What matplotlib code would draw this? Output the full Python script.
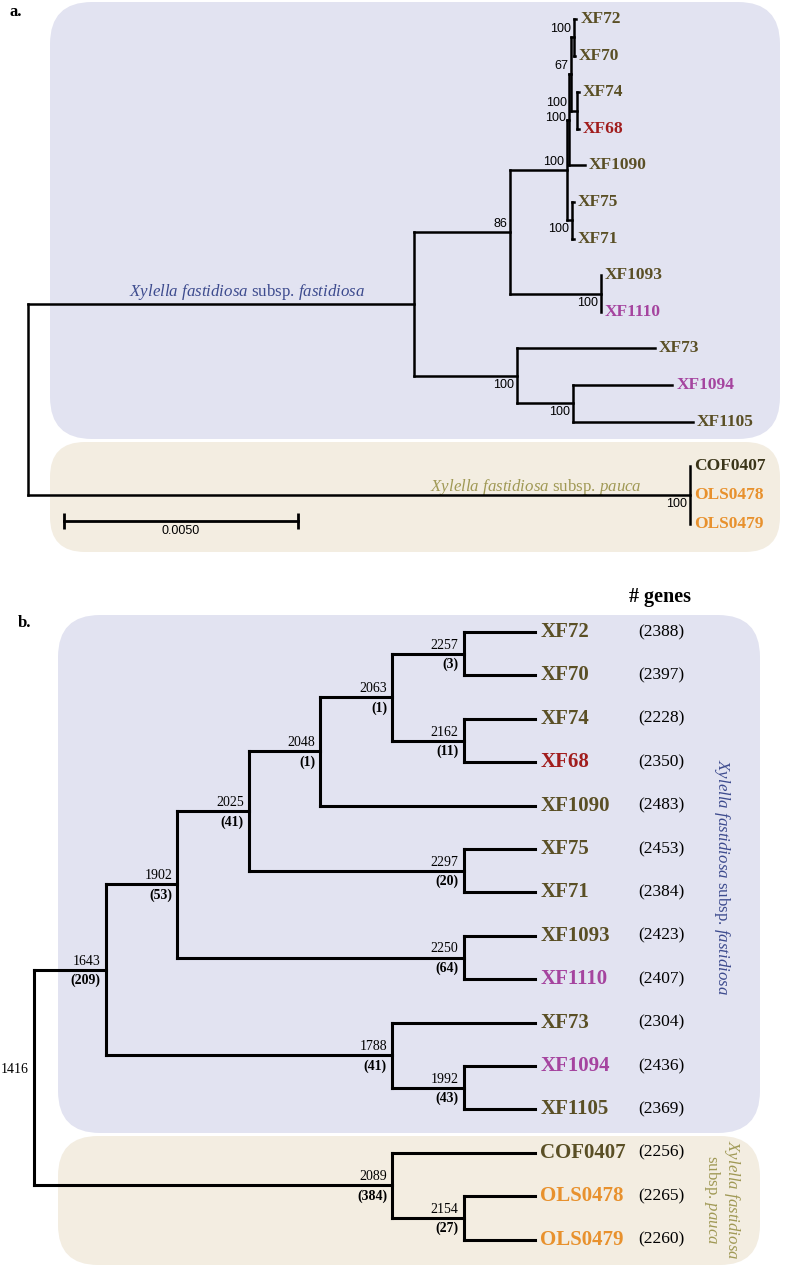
import matplotlib
matplotlib.use('Agg')
import matplotlib.pyplot as plt
from matplotlib.patches import FancyBboxPatch

plt.rcParams['font.family'] = 'Liberation Serif'
plt.rcParams['mathtext.fontset'] = 'custom'
plt.rcParams['mathtext.rm'] = 'Liberation Serif'
plt.rcParams['mathtext.it'] = 'Liberation Serif:italic'
plt.rcParams['mathtext.bf'] = 'Liberation Serif:bold'

# ---------------- panel a: ML tree (substitutions/site) + bootstrap ----------------
a_node = ['root', 'A', 'B', 'C', 'H', 'F', 'E', 'XF72', 'XF70', 'G', 'XF74', 'XF68',
          'XF1090', 'I', 'XF75', 'XF71', 'J', 'XF1093', 'XF1110', 'L', 'XF73', 'K',
          'XF1094', 'XF1105', 'P', 'COF0407', 'OLS0478', 'OLS0479']
a_parent = [None, 'root', 'A', 'B', 'C', 'H', 'F', 'E', 'E', 'F', 'G', 'G',
            'H', 'C', 'I', 'I', 'B', 'J', 'J', 'A', 'L', 'L',
            'K', 'K', 'root', 'P', 'P', 'P']
a_length = [0, 0.00825, 0.00205, 0.00122, 0.00004, 0.00004, 0.00006, 0.00006, 0.00002,
            0.00013, 0.00004, 0.00004, 0.00034, 0.00011, 0.00004, 0.00004, 0.00194,
            0, 0, 0.0022, 0.00295, 0.0012, 0.00212, 0.00256, 0.01415, 0, 0, 0]
a_support_node = ['E', 'F', 'G', 'H', 'C', 'B', 'I', 'J', 'L', 'K', 'P']
a_support = [100, 67, 100, 100, 100, 86, 100, 100, 100, 100, 100]
a_support_pos = ['above', 'above', 'above_far', 'center', 'above', 'above',
                 'below', 'below', 'below', 'below', 'below']
scale_len = 0.005

# ---------------- panel b: core-genome tree with gene counts ----------------
b_node = ['root', 'n1643', 'n1902', 'n2025', 'n2048', 'n2063', 'n2257', 'XF72', 'XF70',
          'n2162', 'XF74', 'XF68', 'XF1090', 'n2297', 'XF75', 'XF71', 'n2250', 'XF1093',
          'XF1110', 'n1788', 'XF73', 'n1992', 'XF1094', 'XF1105', 'n2089', 'COF0407',
          'n2154', 'OLS0478', 'OLS0479']
b_parent = [None, 'root', 'n1643', 'n1902', 'n2025', 'n2048', 'n2063', 'n2257', 'n2257',
            'n2063', 'n2162', 'n2162', 'n2048', 'n2025', 'n2297', 'n2297', 'n1902', 'n2250',
            'n2250', 'n1643', 'n1788', 'n1788', 'n1992', 'n1992', 'root', 'n2089',
            'n2089', 'n2154', 'n2154']
b_internal = ['root', 'n1643', 'n1902', 'n2025', 'n2048', 'n2063', 'n2257', 'n2162',
              'n2297', 'n2250', 'n1788', 'n1992', 'n2089', 'n2154']
b_core = [1416, 1643, 1902, 2025, 2048, 2063, 2257, 2162, 2297, 2250, 1788, 1992, 2089, 2154]
b_unique = [None, 209, 53, 41, 1, 1, 3, 11, 20, 64, 41, 43, 384, 27]
b_leaf = ['XF72', 'XF70', 'XF74', 'XF68', 'XF1090', 'XF75', 'XF71', 'XF1093', 'XF1110',
          'XF73', 'XF1094', 'XF1105', 'COF0407', 'OLS0478', 'OLS0479']
b_genes = [2388, 2397, 2228, 2350, 2483, 2453, 2384, 2423, 2407, 2304, 2436, 2369,
           2256, 2265, 2260]

red_strains = ['XF68']
purple_strains = ['XF1110', 'XF1094']
orange_strains = ['OLS0478', 'OLS0479']

OLIVE, RED, PURPLE, ORANGE = '#5a4f25', '#a11d1d', '#a5449f', '#e8912d'
BLUE_BG, BEIGE_BG = '#e2e3f1', '#f3ede1'
BLUE_TXT, KHAKI_TXT = '#3d4b8e', '#a09955'


def leaf_color(name):
    if name in red_strains:
        return RED
    if name in purple_strains:
        return PURPLE
    if name in orange_strains:
        return ORANGE
    return OLIVE


def build(nodes, parents):
    kids = {n: [] for n in nodes}
    for n, p in zip(nodes, parents):
        if p is not None:
            kids[p].append(n)
    return kids


def leaves_under(kids, n):
    if not kids[n]:
        return [n]
    out = []
    for c in kids[n]:
        out += leaves_under(kids, c)
    return out


def fill_y(y, kids, n):
    if n not in y:
        ys = [fill_y(y, kids, c) for c in kids[n]]
        y[n] = (ys[0] + ys[-1]) / 2
    return y[n]


def draw_edges(ax, kids, x, y, lw):
    for n, cs in kids.items():
        if not cs:
            continue
        ax.plot([x[n], x[n]], [y[cs[0]], y[cs[-1]]], color='black', lw=lw,
                solid_capstyle='projecting')
        for c in cs:
            if x[c] > x[n]:
                ax.plot([x[n], x[c]], [y[c], y[c]], color='black', lw=lw,
                        solid_capstyle='projecting')


W, H = 787, 1268
fig = plt.figure(figsize=(W / 100, H / 100), dpi=100)

# background axes in pixel units: boxes and free text
bg = fig.add_axes([0, 0, 1, 1])
bg.set_xlim(0, W)
bg.set_ylim(H, 0)
bg.axis('off')

for (x0, y0, x1, y1, r, c) in [(50, 2, 780, 439, 42, BLUE_BG),
                               (50, 442, 780, 552, 35, BEIGE_BG),
                               (58, 615, 760, 1133, 42, BLUE_BG),
                               (58, 1136, 760, 1265, 40, BEIGE_BG)]:
    bg.add_patch(FancyBboxPatch((x0, y0), x1 - x0, y1 - y0,
                                boxstyle=f'round,pad=0,rounding_size={r}',
                                fc=c, ec='none'))

bg.text(10, 12, 'a.', fontsize=12, fontweight='bold', va='center')
bg.text(18, 623, 'b.', fontsize=12, fontweight='bold', va='center')
bg.text(660, 597, '# genes', fontsize=14.5, fontweight='bold', ha='center', va='center')

fast_lbl = r'$\it{Xylella\ fastidiosa}$ subsp. $\it{fastidiosa}$'
pauca_lbl = r'$\it{Xylella\ fastidiosa}$ subsp. $\it{pauca}$'
bg.text(247, 292, fast_lbl, fontsize=12.2, color=BLUE_TXT, ha='center', va='center')
bg.text(536, 487, pauca_lbl, fontsize=12.2, color=KHAKI_TXT, ha='center', va='center')
bg.text(722, 877, fast_lbl, fontsize=12.2, color=BLUE_TXT, ha='center', va='center',
        rotation=-90)
bg.text(722, 1200, r'$\it{Xylella\ fastidiosa}$' + '\n' + r'subsp. $\it{pauca}$',
        fontsize=12.2, color=KHAKI_TXT, ha='center', va='center', rotation=-90,
        multialignment='center', linespacing=1.0)

# ---------------- panel a ----------------
k = scale_len / 234.0          # substitutions per pixel
ax_a = fig.add_axes([0, 0, 1, 1], facecolor='none')
ax_a.set_xlim(-28 * k, (W - 28) * k)
ax_a.set_ylim(H, 0)
ax_a.axis('off')

a_kids = build(a_node, a_parent)
a_len = dict(zip(a_node, a_length))
a_x = {}


def set_depth(n, d):
    a_x[n] = d + a_len[n]
    for c in a_kids[n]:
        set_depth(c, a_x[n])


set_depth('root', 0)
a_y = {}
for clade, top, step in [('A', 19, 36.6), ('P', 466, 29)]:
    for i, lf in enumerate(leaves_under(a_kids, clade)):
        a_y[lf] = top + step * i
fill_y(a_y, a_kids, 'root')

draw_edges(ax_a, a_kids, a_x, a_y, 1.8)

for lf in leaves_under(a_kids, 'root'):
    col = '#3b3519' if lf == 'COF0407' else leaf_color(lf)
    ax_a.annotate(lf, (a_x[lf], a_y[lf]), xytext=(4, 0), textcoords='offset pixels',
                  ha='left', va='center', fontsize=12.5, fontweight='bold', color=col)

offsets = {'above': (-3, 2, 'bottom'), 'above_far': (-10, 2, 'bottom'),
           'below': (-3, -3, 'top'), 'center': (-3, 2, 'center')}
for n, v, pos in zip(a_support_node, a_support, a_support_pos):
    dx, dy, va = offsets[pos]
    ax_a.annotate(str(v), (a_x[n], a_y[n]), xytext=(dx, dy), textcoords='offset pixels',
                  ha='right', va=va, fontsize=9, family='Liberation Sans')

# scale bar
sb_x0 = 36 * k
ax_a.plot([sb_x0, sb_x0 + scale_len], [521, 521], color='black', lw=2)
ax_a.plot([sb_x0, sb_x0 + scale_len], [521, 521], ls='none', marker='|',
          markersize=11, mew=2, color='black')
ax_a.text(sb_x0 + scale_len / 2, 525, f'{scale_len:.4f}', ha='center', va='top',
          fontsize=9, family='Liberation Sans')

# ---------------- panel b ----------------
step_px = 71.6
ax_b = fig.add_axes([0, 0, 1, 1], facecolor='none')
ax_b.set_xlim(-34 / step_px, (W - 34) / step_px)
ax_b.set_ylim(H, 0)
ax_b.axis('off')

b_kids = build(b_node, b_parent)
b_h = {}


def height(n):
    b_h[n] = 0 if not b_kids[n] else 1 + max(height(c) for c in b_kids[n])
    return b_h[n]


height('root')
b_x = {n: b_h['root'] - b_h[n] for n in b_node}
b_y = {lf: 632 + 43.4 * i for i, lf in enumerate(leaves_under(b_kids, 'root'))}
fill_y(b_y, b_kids, 'root')

draw_edges(ax_b, b_kids, b_x, b_y, 2.2)

for lf, g in zip(b_leaf, b_genes):
    ax_b.annotate(lf, (b_x[lf], b_y[lf]), xytext=(5, 0), textcoords='offset pixels',
                  ha='left', va='center', fontsize=15, fontweight='bold',
                  color=leaf_color(lf))
    ax_b.annotate(f'({g})', (b_x[lf], b_y[lf]), xytext=(126, 0),
                  textcoords='offset pixels', ha='center', va='center', fontsize=12.5)

for n, core, uniq in zip(b_internal, b_core, b_unique):
    if uniq is None:
        ax_b.annotate(str(core), (b_x[n], b_y[n]), xytext=(-5, 8),
                      textcoords='offset pixels', ha='right', va='center', fontsize=10)
        continue
    ax_b.annotate(str(core), (b_x[n], b_y[n]), xytext=(-5, 2),
                  textcoords='offset pixels', ha='right', va='bottom', fontsize=10)
    ax_b.annotate(f'({uniq})', (b_x[n], b_y[n]), xytext=(-5, -4),
                  textcoords='offset pixels', ha='right', va='top', fontsize=10,
                  fontweight='bold')

fig.savefig('out.png', dpi=100)
